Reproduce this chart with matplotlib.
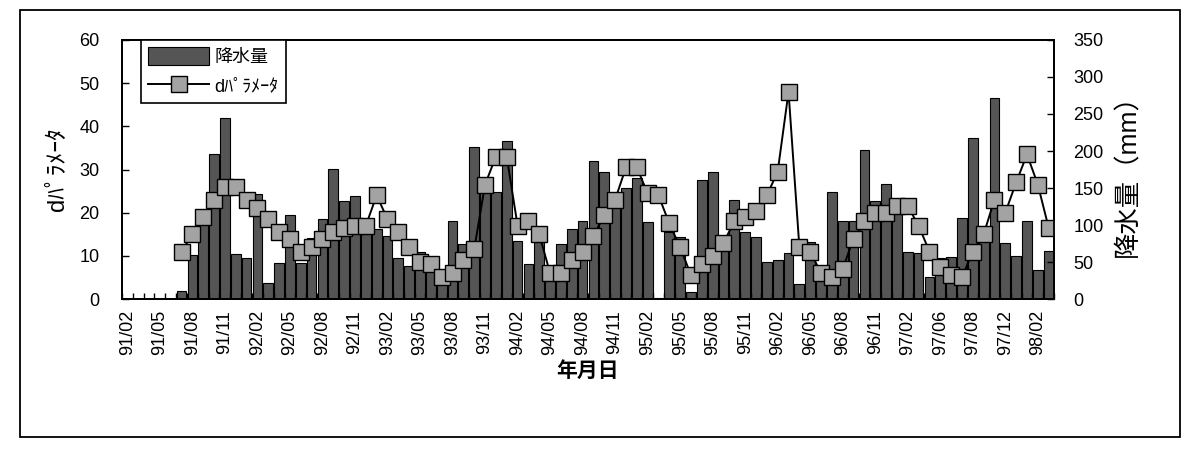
import matplotlib
matplotlib.use('Agg')
from matplotlib import pyplot as plt
from matplotlib.patches import Rectangle
import numpy as np

plt.rcParams['font.family'] = ['Liberation Sans', 'Noto Sans CJK JP']

# monthly precipitation (mm), 91/02 .. 98/03
rain = [0, 0, 0, 0, 0, 11, 60, 113, 196, 245,
        61, 56, 142, 21, 48, 113, 48, 83, 108, 176,
        132, 139, 103, 95, 85, 55, 45, 63, 56, 36,
        105, 74, 205, 150, 145, 213, 79, 47, 77, 45,
        75, 95, 106, 186, 172, 138, 150, 163, 104, 2,
        90, 84, 9, 161, 172, 81, 134, 90, 84, 50,
        53, 62, 20, 77, 38, 145, 105, 106, 202, 132,
        155, 132, 63, 62, 30, 55, 57, 110, 217, 98,
        271, 76, 58, 105, 39, 65]

# d parameter (no values for the first five months)
dpar = [np.nan, np.nan, np.nan, np.nan, np.nan, 11, 15, 19, 23, 26,
        26, 23, 21, 18.5, 15.5, 14, 11, 12, 14, 15.5,
        16.5, 17, 17, 24, 18.5, 15.5, 12, 8.5, 8, 5,
        6, 9, 11.5, 26.5, 33, 33, 17, 18, 15, 6,
        6, 9, 11, 14.5, 19.5, 23, 30.5, 30.5, 24.5, 24,
        17.5, 12, 5.5, 8, 10, 13, 18, 19, 20.5, 24,
        29.5, 48, 12, 11, 6, 5, 7, 14, 18, 20,
        20, 21.5, 21.5, 17, 11, 7.5, 5.5, 5, 11, 15,
        23, 20, 27, 33.5, 26.5, 16.5]

tick_labels = ['91/02', '91/05', '91/08', '91/11', '92/02', '92/05', '92/08',
               '92/11', '93/02', '93/05', '93/08', '93/11', '94/02', '94/05',
               '94/08', '94/11', '95/02', '95/05', '95/08', '95/11', '96/02',
               '96/05', '96/08', '96/11', '97/02', '97/06', '97/08', '97/12',
               '98/02']

x = np.arange(len(rain))

fig = plt.figure(figsize=(11.92, 4.54), dpi=100)
# outer chart frame
fig.patches.append(Rectangle((0.0168, 0.0374), 0.973, 0.9405, transform=fig.transFigure,
                             fill=False, edgecolor='black', linewidth=1.3))

ax = fig.add_axes([0.1023, 0.3414, 0.782, 0.5705])
ax2 = ax.twinx()

# bars -> right axis (mm)
bars = ax.bar(x, rain, width=0.9, color='#555555', edgecolor='black', linewidth=0.8)
ax.set_ylim(0, 350)
ax.set_yticks(range(0, 351, 50))
ax.yaxis.tick_right()
ax.yaxis.set_label_position('right')
ax.set_ylabel('降水量（mm）', fontsize=19, labelpad=8)
ax.tick_params(axis='y', direction='in', length=5, width=1, labelsize=13, pad=14)
ax.set_xlim(-0.5, len(rain) - 0.5)

ax.set_xticks(x[::3])
ax.set_xticklabels(tick_labels, rotation=90, fontsize=13)
ax.set_xticks(np.arange(-0.5, len(rain), 1), minor=True)
ax.tick_params(axis='x', which='major', length=0, pad=8)
ax.tick_params(axis='x', which='minor', direction='in', length=4, width=1)
ax.set_xlabel('年月日', fontsize=15, fontweight='bold', labelpad=4)

# d parameter -> left axis
line, = ax2.plot(x, dpar, color='black', linewidth=1.4, marker='s', markersize=11,
                 markerfacecolor='#a3a3a3', markeredgecolor='black', markeredgewidth=1.0)
ax2.set_ylim(0, 60)
ax2.set_yticks(range(0, 61, 10))
ax2.yaxis.tick_left()
ax2.yaxis.set_label_position('left')
ax2.set_ylabel('dﾊﾟﾗﾒｰﾀ', fontsize=17, labelpad=8)
ax2.tick_params(axis='y', direction='in', length=5, width=1, labelsize=13, pad=16)

for a in (ax, ax2):
    for s in a.spines.values():
        s.set_linewidth(1.3)
        s.set_color('black')

leg = ax2.legend([bars, line], ['降水量', 'dﾊﾟﾗﾒｰﾀ'], loc='upper left',
                 bbox_to_anchor=(0.02, 1.0), fontsize=13, handlelength=3.4,
                 handleheight=1.1, fancybox=False, framealpha=1, edgecolor='black',
                 borderpad=0.4, labelspacing=0.6, handletextpad=0.3, borderaxespad=0.0)
leg.get_frame().set_linewidth(1.2)

plt.savefig('out.png', dpi=100)
